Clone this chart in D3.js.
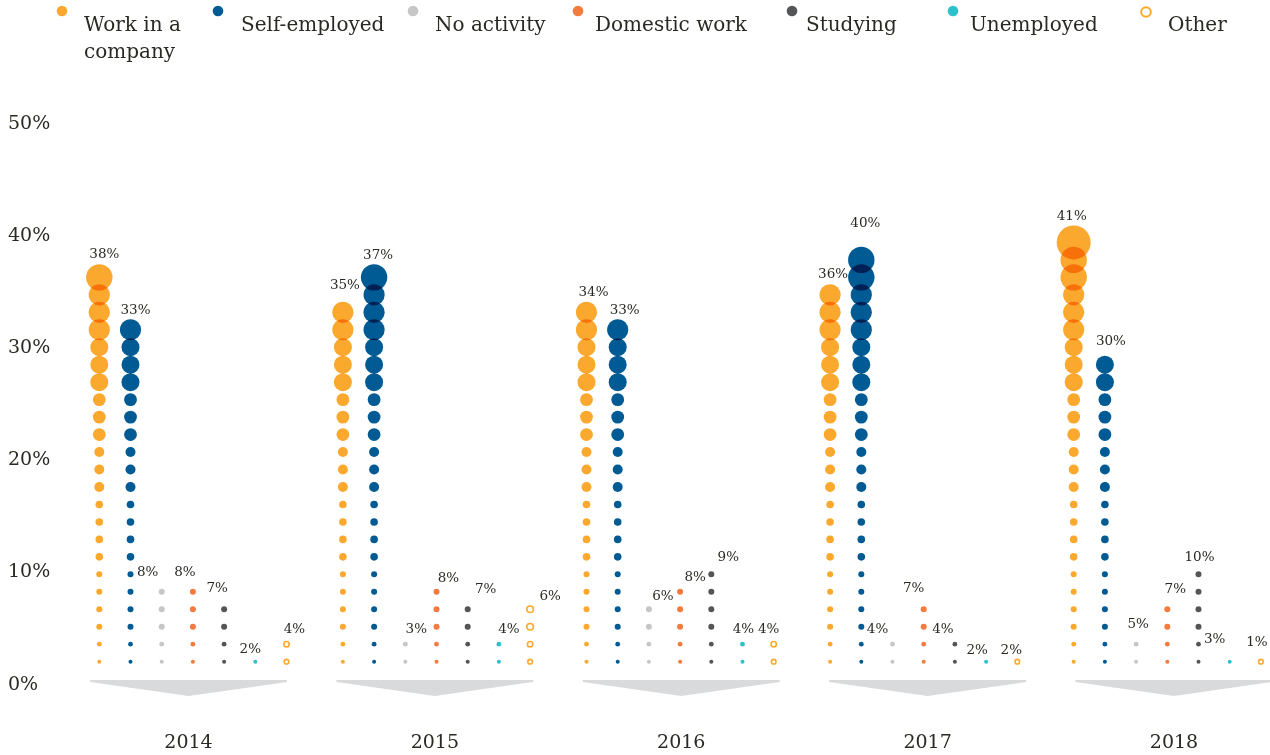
<!DOCTYPE html>
<html>
<head>
<meta charset="utf-8">
<script src="https://cdn.jsdelivr.net/npm/d3@7"></script>
<style>
  body { margin: 0; background: #fff; }
  svg { display: block; font-family: "DejaVu Serif", serif; }
  .dot { mix-blend-mode: multiply; }
  .txt { fill: #2a2a22; }
</style>
</head>
<body>
<svg id="chart" width="1270" height="755"></svg>
<script>
// categories and years
var years = ["2014", "2015", "2016", "2017", "2018"];
var categories = ["Work in a company", "Self-employed", "No activity", "Domestic work",
                  "Studying", "Unemployed", "Other"];

// share of people (%) printed over each column
var share2014 = [38, 33, 8, 8, 7, 2, 4];
var share2015 = [35, 37, 3, 8, 7, 4, 6];
var share2016 = [34, 33, 6, 8, 9, 4, 4];
var share2017 = [36, 40, 4, 7, 4, 2, 2];
var share2018 = [41, 30, 5, 7, 10, 3, 1];

// number of dots stacked in each column
var dots2014 = [23, 20, 5, 5, 4, 1, 2];
var dots2015 = [21, 23, 2, 5, 4, 2, 4];
var dots2016 = [21, 20, 4, 5, 6, 2, 2];
var dots2017 = [22, 24, 2, 4, 2, 1, 1];
var dots2018 = [25, 18, 2, 4, 6, 1, 1];

var yTicks = [0, 10, 20, 30, 40, 50];

// layout / style (not data)
var colors = ["#fba92e", "#005b94", "#c6c6c6", "#f47b3d", "#545556", "#2fc0cb", "#fba92e"];
var labelNudge = [
  [[5, -24], [5, -20], [-14, -21], [-8, -21], [-7, -22], [-5, -13], [8, -16]],
  [[2, -28], [4, -23], [11, -16], [12, -15], [18, -21], [10, -16], [20, -14]],
  [[7, -21], [7, -20], [14, -14], [15, -16], [17, -18], [1, -16], [-5, -16]],
  [[3, -22], [4, -38], [-15, -16], [-10, -22], [-12, -16], [-9, -12], [-6, -12]],
  [[-2, -27], [6, -24], [2, -21], [8, -21], [1, -18], [-15, -23], [-4, -20]]
];
var legendDotX = [62, 218, 413, 578, 792, 953, 1146];
var legendTextX = [84, 241, 435, 595, 806, 970, 1168];

var shares = [share2014, share2015, share2016, share2017, share2018];
var dotCounts = [dots2014, dots2015, dots2016, dots2017, dots2018];

var svg = d3.select("#chart");

// scales
var y = d3.scaleLinear().domain([0, 50]).range([683, 122]);
var groupX = d3.scalePoint().domain(years).range([99.3, 1073.7]);
var colX = d3.scalePoint().domain(categories).range([0, 187.2]);
var arrowX = d3.scalePoint().domain(years).range([188.5, 1174]);
var dotBase = 1.9, dotStep = 1.557; // value (in %) of the first dot level and gap between levels
var rad = d3.scaleThreshold()
  .domain([1, 2, 6, 10, 13, 16, 19, 22, 24])
  .range([2, 2.4, 3, 3.8, 5, 6.4, 9, 10.6, 13.2, 17]);

function levelY(k) { return y(dotBase + k * dotStep); }

// y axis labels, left aligned
var axis = svg.append("g")
  .attr("transform", "translate(8,0)")
  .call(d3.axisRight(y).tickValues(yTicks).tickSize(0).tickPadding(0).tickFormat(d => d + "%"));
axis.select(".domain").remove();
axis.selectAll("text").attr("class", "txt").attr("font-size", 19)
  .attr("font-family", "DejaVu Serif");

// grey chevrons under every year
svg.selectAll("path.chevron").data(years).enter().append("path")
  .attr("class", "chevron")
  .attr("fill", "#d9dadb")
  .attr("d", d => {
    var cx = arrowX(d), t = 680;
    return "M" + (cx - 98.5) + "," + t + "L" + (cx + 98.5) + "," + t +
           "L" + (cx + 98.5) + "," + (t + 2) + "L" + cx + "," + (t + 16) +
           "L" + (cx - 98.5) + "," + (t + 2) + "Z";
  });

svg.selectAll("text.year").data(years).enter().append("text")
  .attr("class", "year txt")
  .attr("x", d => arrowX(d)).attr("y", 748)
  .attr("text-anchor", "middle").attr("font-size", 19)
  .text(d => d);

// one group per year
var rows = years.map((yr, i) => ({ year: yr, i: i }));
var groups = svg.selectAll("g.year").data(rows).enter().append("g")
  .attr("class", "year")
  .attr("transform", d => "translate(" + groupX(d.year) + ",0)");

groups.each(function (row) {
  var g = d3.select(this);
  var cols = categories.map((c, j) => ({
    cat: c, j: j, share: shares[row.i][j], n: dotCounts[row.i][j], nudge: labelNudge[row.i][j]
  }));

  cols.forEach(col => {
    var pts = d3.range(col.n);
    var hollow = col.cat === "Other";
    g.selectAll("circle.c" + col.j).data(pts).enter().append("circle")
      .attr("class", "dot c" + col.j)
      .attr("cx", colX(col.cat))
      .attr("cy", k => levelY(k))
      .attr("r", k => hollow ? rad(k) + 0.3 : rad(k))
      .attr("fill", hollow ? "#fff" : colors[col.j])
      .attr("stroke", hollow ? colors[col.j] : "none")
      .attr("stroke-width", hollow ? 1.6 : 0);
  });

  g.selectAll("text.lbl").data(cols).enter().append("text")
    .attr("class", "lbl txt")
    .attr("x", d => colX(d.cat) + d.nudge[0])
    .attr("y", d => levelY(d.n - 1) + d.nudge[1])
    .attr("dy", "0.35em")
    .attr("text-anchor", "middle")
    .attr("font-size", 13.5)
    .text(d => d.share + "%");
});

// legend
var legend = svg.append("g");
categories.forEach((c, j) => {
  var hollow = c === "Other";
  legend.append("circle")
    .attr("cx", legendDotX[j]).attr("cy", hollow ? 12 : 11)
    .attr("r", hollow ? 4.8 : 5.3)
    .attr("fill", hollow ? "#fff" : colors[j])
    .attr("stroke", hollow ? colors[j] : "none")
    .attr("stroke-width", hollow ? 2 : 0);
  var t = legend.append("text").attr("class", "txt")
    .attr("x", legendTextX[j]).attr("y", 31).attr("font-size", 20);
  if (c === "Work in a company") {
    t.append("tspan").attr("x", legendTextX[j]).text("Work in a");
    t.append("tspan").attr("x", legendTextX[j]).attr("dy", 27).text("company");
  } else {
    t.text(c);
  }
});
</script>
</body>
</html>
